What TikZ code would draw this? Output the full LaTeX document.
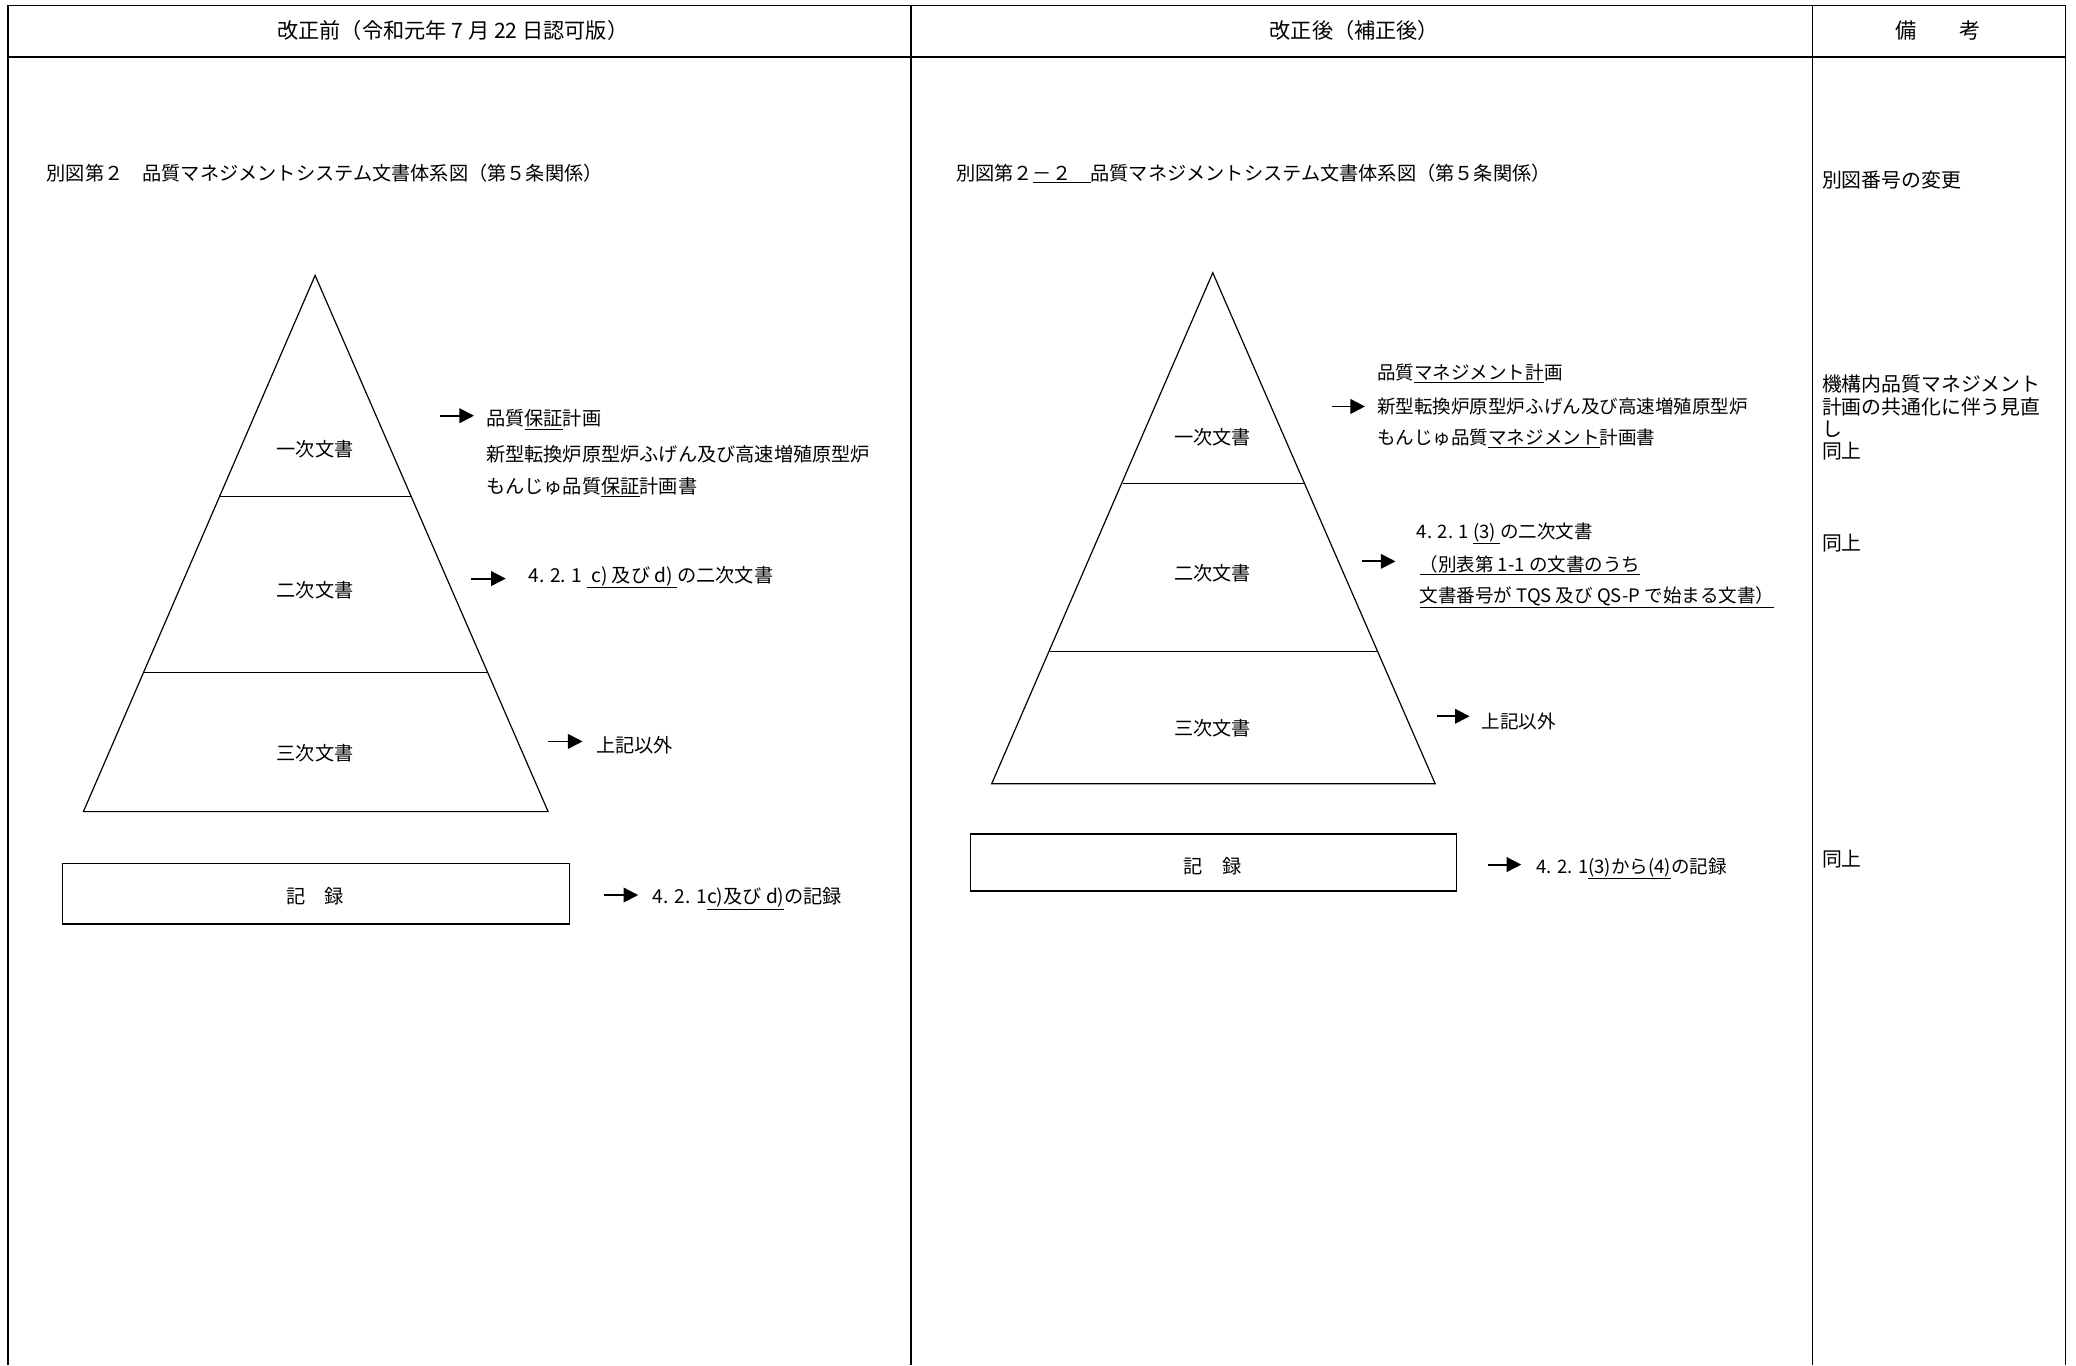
\documentclass[tikz,border=0pt]{standalone}
\usepackage{fontspec}
\setmainfont{Noto Sans CJK JP}
\usetikzlibrary{arrows.meta}
\tikzset{
  frame/.style={line width=1.1pt},
  tri/.style={line width=0.9pt, line join=miter},
  arr/.style={line width=1.4pt, -{Triangle[length=11pt,width=11pt]}},
  txt/.style={anchor=west, inner sep=0pt, font=\fontsize{14.5}{17}\selectfont},
  rtxt/.style={anchor=west, inner sep=0pt, font=\fontsize{14}{17}\selectfont},
  ctxt/.style={inner sep=0pt, font=\fontsize{14.5}{17}\selectfont},
  head/.style={inner sep=0pt, font=\fontsize{16}{18}\selectfont},
  note/.style={anchor=west, inner sep=0pt, font=\fontsize{15}{17}\selectfont},
  recbox/.style={draw, line width=1pt},
}
\begin{document}
\begin{tikzpicture}[x=1pt,y=-1pt]
\fill[white] (0,0) rectangle (1568,1031);
\useasboundingbox (0,0) rectangle (1568,1031);

% table frame
\draw[frame] (6,1031) -- (6,4) -- (1560,4) -- (1560,1031);
\draw[frame] (6,43) -- (1560,43);
\draw[frame] (688,4) -- (688,1031);
\draw[frame] (1369,4) -- (1369,1031);

% headers
\node[head] (h1) at (342,23) {改正前（令和元年 7 月 22 日認可版）};
\node[head] (h2) at (1023,23) {改正後（補正後）};
\node[head] (h3) at (1464,23) {備　　考};

% ===== left column =====
\node[txt] (lt) at (35,131) {別図第２　品質マネジメントシステム文書体系図（第５条関係）};

\coordinate (LA) at (238,208);
\coordinate (LB) at (63,613);
\coordinate (LC) at (414,613);
\draw[tri] (LA) -- (LB) -- (LC) -- cycle;
\coordinate (L1a) at (166,375); \coordinate (L1b) at (311,375);
\coordinate (L2a) at (109,508); \coordinate (L2b) at (368,508);
\draw[tri] (L1a) -- (L1b);
\draw[tri] (L2a) -- (L2b);
\node[ctxt] (l1) at (238,339) {一次文書};
\node[ctxt] (l2) at (238,446) {二次文書};
\node[ctxt] (l3) at (238,569) {三次文書};

\coordinate (la1s) at (332,314); \coordinate (la1e) at (358,314);
\draw[arr] (la1s) -- (la1e);
\node[txt] (lq1) at (367,317) {品質\underline{保証}計画};
\node[txt] (lq2) at (367,343) {新型転換炉原型炉ふげん及び高速増殖原型炉};
\node[txt] (lq3) at (367,368) {もんじゅ品質\underline{保証}計画書};

\coordinate (la2s) at (356,437); \coordinate (la2e) at (382,437);
\draw[arr] (la2s) -- (la2e);
\node[txt] (ls2) at (399,436) {4. 2. 1 \underline{ c) 及び d) }の二次文書};

\coordinate (la3s) at (414,560); \coordinate (la3e) at (440,560);
\draw[arr] (la3s) -- (la3e);
\node[txt] (ls3) at (450,563) {上記以外};

\node[recbox, minimum width=383pt, minimum height=46pt, inner sep=0pt] (lrec) at (238.5,675) {};
\node[ctxt] (lrect) at (238,677) {記　録};
\coordinate (la4s) at (456,676); \coordinate (la4e) at (482,676);
\draw[arr] (la4s) -- (la4e);
\node[txt] (lr) at (493,679) {4. 2. 1\underline{c)及び d)}の記録};

% ===== right column =====
\node[txt] (rt) at (722,131) {別図第２\underline{－２　}品質マネジメントシステム文書体系図（第５条関係）};

\coordinate (RA) at (916,206);
\coordinate (RB) at (749,592);
\coordinate (RC) at (1084,592);
\draw[tri] (RA) -- (RB) -- (RC) -- cycle;
\coordinate (R1a) at (848,365); \coordinate (R1b) at (985,365);
\coordinate (R2a) at (793,492); \coordinate (R2b) at (1041,492);
\draw[tri] (R1a) -- (R1b);
\draw[tri] (R2a) -- (R2b);
\node[ctxt] (r1) at (916,330) {一次文書};
\node[ctxt] (r2) at (916,433) {二次文書};
\node[ctxt] (r3) at (916,550) {三次文書};

\node[rtxt] (rq1) at (1040,282) {品質\underline{マネジメント計}画};
\node[rtxt] (rq2) at (1040,307) {新型転換炉原型炉ふげん及び高速増殖原型炉};
\node[rtxt] (rq3) at (1040,331) {もんじゅ品質\underline{マネジメント}計画書};
\coordinate (ra1s) at (1006,307); \coordinate (ra1e) at (1031,307);
\draw[arr] (ra1s) -- (ra1e);

\node[rtxt] (rs1) at (1070,403) {4. 2. 1 \underline{(3) }の二次文書};
\node[rtxt] (rs2) at (1072,427) {\underline{（別表第 1-1 の文書のうち}};
\node[rtxt] (rs3) at (1072,451) {\underline{文書番号が TQS 及び QS-P で始まる文書）}};
\coordinate (ra2s) at (1029,424); \coordinate (ra2e) at (1054,424);
\draw[arr] (ra2s) -- (ra2e);

\coordinate (ra3s) at (1085,541); \coordinate (ra3e) at (1110,541);
\draw[arr] (ra3s) -- (ra3e);
\node[rtxt] (rs4) at (1119,545) {上記以外};

\node[recbox, minimum width=367pt, minimum height=43pt, inner sep=0pt] (rrec) at (916.5,651.5) {};
\node[ctxt] (rrect) at (916,654) {記　録};
\coordinate (ra4s) at (1124,653); \coordinate (ra4e) at (1149,653);
\draw[arr] (ra4s) -- (ra4e);
\node[rtxt] (rr) at (1160,656) {4. 2. 1\underline{(3)から(4)}の記録};

% ===== remarks column =====
\node[note] (n1) at (1376,136) {別図番号の変更};
\node[note] (n2) at (1376,290) {機構内品質マネジメント};
\node[note] (n3) at (1376,307) {計画の共通化に伴う見直};
\node[note] (n4) at (1376,324) {し};
\node[note] (n5) at (1376,341) {同上};
\node[note] (n6) at (1376,410) {同上};
\node[note] (n7) at (1376,649) {同上};
\end{tikzpicture}
\end{document}
